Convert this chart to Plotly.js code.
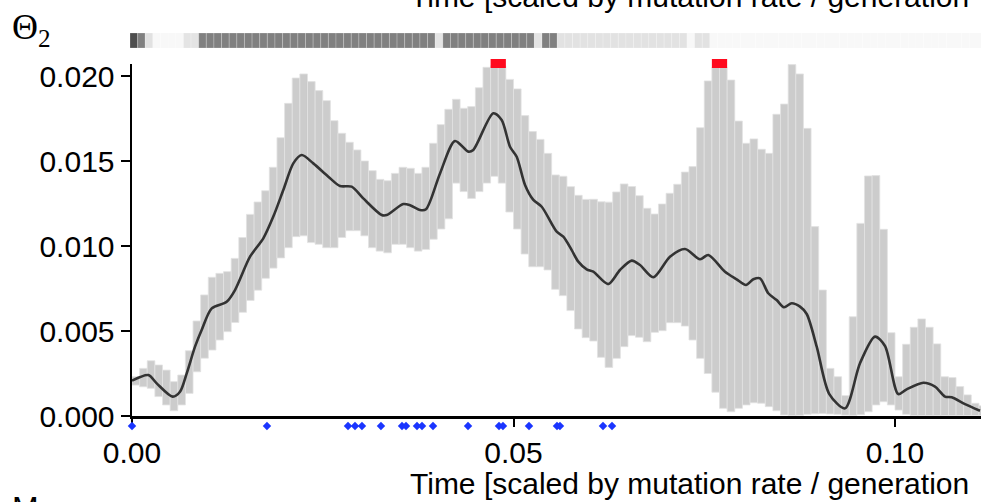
<!DOCTYPE html>
<html>
<head>
<meta charset="utf-8">
<script src="https://cdn.plot.ly/plotly-3.0.1.min.js"></script>
<style>html,body{margin:0;padding:0;background:#fff}#chart{width:981px;height:502px}</style>
</head>
<body>
<div id="chart"></div>
<script>
// ---- data ----
const binWidth = 0.001; // time bins
const upper95 = [0.00231,0.0028,0.00325,0.0030,0.0027,0.00202,0.00241,0.00384,0.00559,0.00712,
0.00816,0.00839,0.00849,0.00927,0.0105,0.01186,0.01259,0.01325,0.01463,0.01637,
0.01839,0.01988,0.02012,0.01967,0.01914,0.01855,0.01737,0.01663,0.0161,0.01565,
0.0150,0.01443,0.01392,0.01384,0.01427,0.01463,0.01457,0.01427,0.01463,0.01604,
0.01714,0.01804,0.01863,0.0181,0.0182,0.01931,0.02051,0.0206,0.0206,0.0198,
0.01924,0.01767,0.01673,0.01627,0.01545,0.01418,0.0141,0.01349,0.01298,0.01274,
0.01275,0.0126,0.01258,0.01318,0.01365,0.0135,0.01296,0.01222,0.01188,0.01247,
0.0131,0.01363,0.01435,0.01467,0.01696,0.01971,0.0205,0.0205,0.01976,0.01735,
0.01604,0.0163,0.01569,0.01545,0.01775,0.01835,0.02067,0.02012,0.01692,0.01114,
0.00741,0.0028,0.00231,0.0012,0.00584,0.01133,0.01412,0.01414,0.01098,0.0049,
0.00231,0.00422,0.00522,0.00571,0.00522,0.00424,0.00231,0.00226,0.00173,0.00124,
0.00075,0.0006];
const lower95 = [0.00182,0.00172,0.00163,0.00114,0.00065,0.00031,0.00065,0.00133,0.0026,0.0034,
0.00388,0.00447,0.00496,0.0055,0.0061,0.0068,0.0074,0.0081,0.0087,0.0093,
0.0099,0.01055,0.0106,0.0102,0.0101,0.0099,0.0099,0.0105,0.0109,0.0109,
0.0106,0.0099,0.0097,0.0096,0.0101,0.0101,0.0099,0.0097,0.0098,0.0104,
0.0110,0.0116,0.0137,0.0132,0.0128,0.0132,0.0137,0.0141,0.0137,0.0120,
0.0110,0.00953,0.00878,0.00878,0.00859,0.00745,0.00708,0.0062,0.00512,0.00461,
0.00441,0.00345,0.00286,0.00339,0.00408,0.00473,0.00463,0.00437,0.00492,0.00502,
0.00549,0.00549,0.00529,0.00447,0.00339,0.0025,0.0014,0.00045,0.00025,0.00045,
0.00065,0.00078,0.00075,0.00055,0.00031,0.00006,0.00003,0.00004,0.0001,0.00013,
0.00015,0.00012,0.0001,0.00005,0.00004,0.00008,0.00025,0.00065,0.00084,0.00065,
0.00035,0.0001,0.00003,0.00003,0.00003,0.00003,0.00003,0.00003,0.00003,0.00003,
0.00003,0.00003];
const medianTime = [0.0,0.00214,0.00324,0.00533,0.00629,0.00717,0.00826,0.00913,0.01045,0.01241,0.0135,
0.01547,0.01721,0.01852,0.01983,0.02114,0.02224,0.02376,0.02573,0.02726,0.02879,
0.03031,0.03273,0.03338,0.03556,0.03644,0.03775,0.03853,0.04037,0.04233,0.04408,
0.04473,0.04735,0.04845,0.04954,0.05042,0.05151,0.0526,0.0537,0.05566,0.05653,
0.05763,0.05849,0.05959,0.06046,0.06242,0.06396,0.06549,0.06658,0.06832,0.07051,
0.07248,0.07444,0.07553,0.07772,0.07925,0.08047,0.08143,0.08231,0.08339,0.08449,
0.08545,0.08646,0.08755,0.08843,0.08974,0.09139,0.09345,0.09541,0.09738,0.09869,
0.10043,0.10153,0.10371,0.10524,0.10655,0.10743,0.10917,0.11114];
const medianTheta = [0.00208,0.00241,0.00192,0.00114,0.00143,0.00251,0.00408,0.00506,0.00633,0.00672,0.00741,
0.00937,0.01045,0.01173,0.01329,0.01486,0.01535,0.01486,0.01408,0.01353,0.01349,
0.0128,0.01182,0.01182,0.01247,0.0124,0.01212,0.01216,0.01427,0.01618,0.01555,
0.01565,0.01781,0.01741,0.01584,0.01525,0.01359,0.01271,0.01231,0.01084,0.01055,
0.00976,0.00908,0.00863,0.00849,0.00776,0.00859,0.00914,0.00888,0.00816,0.00937,
0.00982,0.00922,0.00947,0.00849,0.00804,0.00771,0.00804,0.0081,0.00722,0.00682,
0.0064,0.00663,0.00643,0.006,0.00408,0.00129,0.00045,0.0031,0.00467,0.00412,
0.00129,0.00157,0.00196,0.00173,0.00114,0.0011,0.0007,0.00031];
const eventTimes = [0.0,0.01769,0.02831,0.02923,0.03014,0.03263,0.03539,0.03591,0.03735,0.03801,
0.03945,0.04404,0.04810,0.04862,0.05203,0.05570,0.05609,0.06173,0.06291];
const signifBins = [47,48,76,77];
// strip: [grey level, number of bins]
const stripRuns = [[78,1],[128,1],[225,1],[248,4],[228,2],[128,31],[228,1],[128,12],[228,1],[128,2],[226,17],[248,1],[226,2],[248,36]];
const yTicks = [0,0.005,0.010,0.015,0.020];
const xTicks = [0,0.05,0.10];

// ---- derived ----
const binCenters = upper95.map((_, i) => (i + 0.5) * binWidth);
const heights = upper95.map((u, i) => u - lower95[i]);
const stripCenters = [], stripColors = [];
let bi = 0;
stripRuns.forEach(([g, n]) => { for (let j = 0; j < n; j++) { stripCenters.push((bi + 0.5) * binWidth); stripColors.push(`rgb(${g},${g},${g})`); bi++; } });
// merge consecutive significant bins into single red blocks
const redStart = [], redCount = [];
signifBins.forEach(b => {
  const last = redStart.length - 1;
  if (last >= 0 && redStart[last] + redCount[last] === b) redCount[last]++;
  else { redStart.push(b); redCount.push(1); }
});
const redCenters = redStart.map((s, i) => (s + redCount[i] / 2) * binWidth);
const redWidths = redCount.map(n => n * binWidth);

const W = 981, H = 502, L = 130, R = 0, T = 0, B = 0;
const pw = W - L - R, ph = H - T - B;
const pxPerUnit = 7630;
const font = 'Liberation Sans, Arial, Helvetica, sans-serif';
const py = p => (ph - p) / ph; // pixel row -> paper fraction

const traces = [
  { type: 'bar', x: binCenters, y: heights, base: lower95, width: binWidth,
    marker: { color: '#cccccc', line: { color: '#e2e2e2', width: 0.8 } },
    xaxis: 'x', yaxis: 'y', hoverinfo: 'skip' },
  { type: 'scatter', mode: 'lines', x: medianTime, y: medianTheta,
    line: { color: '#333333', width: 2.6, shape: 'spline', smoothing: 0.8 },
    xaxis: 'x', yaxis: 'y' },
  { type: 'bar', x: redCenters, y: redCenters.map(() => 1), width: redWidths,
    marker: { color: '#ff0a1e', line: { width: 0 } }, xaxis: 'x', yaxis: 'y4', hoverinfo: 'skip' },
  { type: 'scatter', mode: 'markers', x: eventTimes, y: eventTimes.map(() => 0.5), cliponaxis: false,
    marker: { symbol: 'diamond', size: 6.5, color: '#1a35ff' }, xaxis: 'x', yaxis: 'y3' },
  { type: 'bar', x: stripCenters, y: stripCenters.map(() => 1), width: binWidth,
    marker: { color: stripColors, line: { color: 'rgba(255,255,255,0.35)', width: 0.6 } },
    xaxis: 'x2', yaxis: 'y2', hoverinfo: 'skip' }
];

const axisCommon = { showgrid: false, zeroline: false, showline: true, linecolor: '#000', linewidth: 2.5,
  ticks: 'outside', tickcolor: '#000', tickwidth: 2, tickfont: { family: font, size: 30, color: '#000' } };

const layout = {
  width: W, height: H, margin: { l: L, r: R, t: T, b: B, pad: 0 },
  paper_bgcolor: '#fff', plot_bgcolor: 'rgba(0,0,0,0)', showlegend: false, barmode: 'overlay',
  xaxis: Object.assign({}, axisCommon, { domain: [2 / pw, 1], range: [0, (pw - 2) / pxPerUnit],
    tickvals: xTicks, tickformat: '.2f', ticklen: 8, anchor: 'y' }),
  yaxis: Object.assign({}, axisCommon, { domain: [py(416), py(64)], range: [0, 352 / 17000],
    tickvals: yTicks, tickformat: '.3f', ticklen: 9, anchor: 'x' }),
  xaxis2: { domain: [0, 1], range: [0, pw / pxPerUnit], visible: false, anchor: 'y2', fixedrange: true },
  yaxis2: { domain: [py(48), py(33)], range: [0, 1], visible: false, anchor: 'x2' },
  yaxis3: { domain: [py(432), py(420)], range: [0, 1], visible: false, anchor: 'x' },
  yaxis4: { domain: [py(68), py(59)], range: [0, 1], visible: false, anchor: 'x' },
  annotations: [
    { xref: 'paper', yref: 'paper', x: (408 - L) / pw, y: py(483), xanchor: 'left', yanchor: 'middle',
      text: 'Time [scaled by mutation rate / generation', showarrow: false, font: { family: font, size: 30, color: '#000' } },
    { xref: 'paper', yref: 'paper', x: (408 - L) / pw, y: py(-3.5), xanchor: 'left', yanchor: 'middle',
      text: 'Time [scaled by mutation rate / generation', showarrow: false, font: { family: font, size: 30, color: '#000' } },
    { xref: 'paper', yref: 'paper', x: (10 - L) / pw, y: py(30), xanchor: 'left', yanchor: 'middle',
      text: 'Θ<sub>2</sub>', showarrow: false, font: { family: 'Liberation Serif, Times New Roman, serif', size: 36, color: '#000' } },
    { xref: 'paper', yref: 'paper', x: (10 - L) / pw, y: py(508), xanchor: 'left', yanchor: 'middle',
      text: 'M', showarrow: false, font: { family: font, size: 32, color: '#000' } }
  ]
};

Plotly.newPlot('chart', traces, layout, { displayModeBar: false, staticPlot: true });
</script>
</body>
</html>
